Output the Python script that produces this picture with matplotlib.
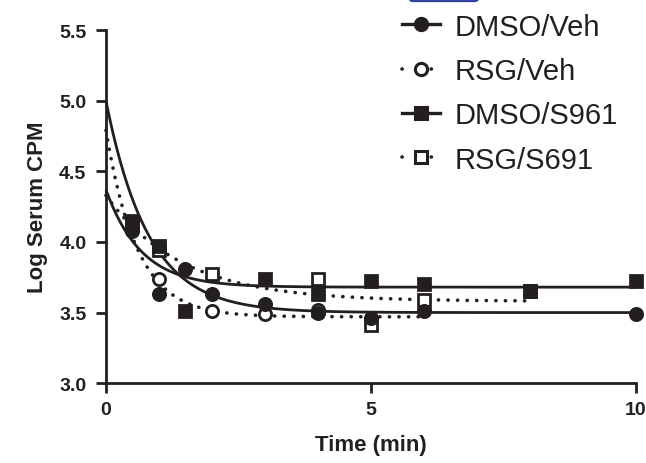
import numpy as np
import matplotlib
matplotlib.use("Agg")
import matplotlib.pyplot as plt
from matplotlib.patches import FancyBboxPatch

plt.rcParams['font.family'] = ['Liberation Sans', 'DejaVu Sans']

# ---- data ----
dmso_veh_t = [0.5, 1, 1.5, 2, 3, 4, 5, 6, 10]
dmso_veh_y = [4.08, 3.63, 3.81, 3.63, 3.56, 3.50, 3.46, 3.51, 3.49]

rsg_veh_t = [0.5, 1, 2, 3, 4, 5, 6]
rsg_veh_y = [4.10, 3.74, 3.51, 3.49, 3.52, 3.45, 3.52]

dmso_s961_t = [0.5, 1, 1.5, 3, 4, 5, 6, 8, 10]
dmso_s961_y = [4.14, 3.97, 3.51, 3.74, 3.63, 3.72, 3.70, 3.65, 3.72]

rsg_s691_t = [0.5, 1, 2, 4, 5, 6, 8]
rsg_s691_y = [4.15, 3.94, 3.77, 3.74, 3.41, 3.59, 3.65]

# one-phase decay fit parameters: start value, plateau, rate, end time
fit_y0 = [5.00, 4.79, 4.37, 4.33]
fit_plateau = [3.50, 3.47, 3.68, 3.58]
fit_k = [1.25, 1.7, 1.5, 0.7]
fit_tmax = [10, 6, 10, 8]

labels = ['DMSO/Veh', 'RSG/Veh', 'DMSO/S961', 'RSG/S691']
x_ticks = [0, 5, 10]
y_ticks = [3.0, 3.5, 4.0, 4.5, 5.0, 5.5]

fig = plt.figure(figsize=(6.46, 4.64), dpi=100)
ax = fig.add_axes([0.164, 0.172, 0.8205, 0.761])

K = '#231f20'
dotted = (0, (0.05, 2.6))
series = [
    (dmso_veh_t, dmso_veh_y, 'o', K, '-'),
    (rsg_veh_t, rsg_veh_y, 'o', 'white', dotted),
    (dmso_s961_t, dmso_s961_y, 's', K, '-'),
    (rsg_s691_t, rsg_s691_y, 's', 'white', dotted),
]
handles = []
for i, (t, y, m, fc, ls) in enumerate(series):
    tt = np.linspace(0, fit_tmax[i], 300)
    yy = fit_plateau[i] + (fit_y0[i] - fit_plateau[i]) * np.exp(-fit_k[i] * tt)
    lw = 2.0 if ls == '-' else 2.6
    ms = 8.8 if m == 'o' else 9.0
    ax.plot(tt, yy, color=K, lw=lw, linestyle=ls, solid_capstyle='butt',
            dash_capstyle='round', clip_on=False, zorder=2)
    ax.plot(t, y, linestyle='none', marker=m, markersize=ms,
            markerfacecolor=fc, markeredgecolor=K, markeredgewidth=2.0,
            clip_on=False, zorder=4 if fc == K else 3)
    h, = ax.plot([], [], color=K, lw=2.4 if ls == '-' else lw,
                 linestyle=ls if ls == '-' else (0, (0.05, 4.0)),
                 marker=m, markersize=8.8,
                 markerfacecolor=fc, markeredgecolor=K, markeredgewidth=2.2,
                 dash_capstyle='round')
    handles.append(h)

ax.set_xlim(0, 10)
ax.set_ylim(3.0, 5.5)
ax.set_xticks(x_ticks)
ax.set_yticks(y_ticks)
ax.set_xticklabels([str(v) for v in x_ticks], fontsize=14, fontweight='bold', color=K)
ax.set_yticklabels([f'{v:.1f}' for v in y_ticks], fontsize=14, fontweight='bold', color=K)
for s in ['top', 'right']:
    ax.spines[s].set_visible(False)
for s in ['left', 'bottom']:
    ax.spines[s].set_linewidth(2.0)
    ax.spines[s].set_color(K)
ax.tick_params(width=2.0, length=7, color=K)
ax.tick_params(axis='y', pad=7)
ax.tick_params(axis='x', pad=6)
ax.set_xlabel('Time (min)', fontsize=16, fontweight='bold', labelpad=11, color=K)
ax.set_ylabel('Log Serum CPM', fontsize=16, fontweight='bold', labelpad=8, color=K)

leg = fig.legend(handles, labels, loc='upper left', bbox_to_anchor=(0.605, 0.996),
                 frameon=False, fontsize=21, handlelength=1.3, handletextpad=0.5,
                 labelspacing=0.56, borderaxespad=0)
for t in leg.get_texts():
    t.set_color(K)

# partial blue box at top edge
box = FancyBboxPatch((0.632, 0.9955), 0.108, 0.03, boxstyle='round,pad=0,rounding_size=0.006',
                     transform=fig.transFigure, facecolor='none', edgecolor='#2e3f9e',
                     lw=1.5, clip_on=True)
fig.patches.append(box)

fig.savefig('out.png', dpi=100)
